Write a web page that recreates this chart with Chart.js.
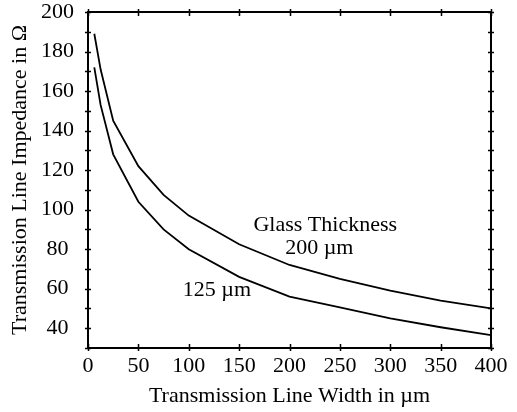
<!DOCTYPE html>
<html>
<head>
<meta charset="utf-8">
<script src="https://cdn.jsdelivr.net/npm/chart.js@4.4.1/dist/chart.umd.min.js"></script>
<style>
html,body{margin:0;padding:0;background:#fff;}
#wrap{width:517px;height:412px;}
</style>
</head>
<body>
<div id="wrap"><canvas id="c" width="517" height="412"></canvas></div>
<script>
// ---- data ----
const widths = [6.25, 12.5, 25, 50, 75, 100, 150, 200, 250, 300, 350, 400];
const imp200 = [189, 171, 145, 122, 107.5, 97, 82.5, 72, 65, 59, 54, 50];
const imp125 = [172, 153, 128, 104, 90, 80, 66, 56, 50.5, 45, 40.5, 36.5];
const xTickLabels = [0, 50, 100, 150, 200, 250, 300, 350, 400];
const yTickLabels = [40, 60, 80, 100, 120, 140, 160, 180, 200];
const yTickMarks = [30, 40, 50, 60, 70, 80, 90, 100, 110, 120, 130, 140, 150, 160, 170, 180, 190, 200];
const xTitle = 'Transmission Line Width in \u00b5m';
const yTitle = 'Transmission Line Impedance in \u03a9';
const annotations = [
  {text: 'Glass Thickness', x: 235.5, y: 92.1},
  {text: '200 \u00b5m', x: 229.6, y: 80.3},
  {text: '125 \u00b5m', x: 128, y: 59.3}
];

const FONT = "'Liberation Serif', 'Times New Roman', serif";
const FS = 22;

const framePlugin = {
  id: 'frame',
  afterDatasetsDraw(chart) {
    const {ctx, chartArea: a, scales: {x, y}} = chart;
    ctx.save();
    ctx.strokeStyle = '#000';
    ctx.lineWidth = 2;
    ctx.strokeRect(a.left, a.top, a.right - a.left, a.bottom - a.top);
    ctx.lineWidth = 1.5;
    ctx.beginPath();
    yTickMarks.forEach(v => {
      const py = Math.round(y.getPixelForValue(v)) + 0.5;
      ctx.moveTo(a.left - 3, py); ctx.lineTo(a.left + 3, py);
      ctx.moveTo(a.right - 3, py); ctx.lineTo(a.right + 3, py);
    });
    xTickLabels.forEach(v => {
      const px = Math.round(x.getPixelForValue(v)) + 0.5;
      ctx.moveTo(px, a.bottom - 4); ctx.lineTo(px, a.bottom + 3);
      ctx.moveTo(px, a.top - 3); ctx.lineTo(px, a.top + 4);
    });
    ctx.stroke();
    ctx.fillStyle = '#000';
    ctx.font = FS + 'px ' + FONT;
    ctx.textAlign = 'center';
    ctx.textBaseline = 'middle';
    annotations.forEach(t => {
      ctx.fillText(t.text, x.getPixelForValue(t.x), y.getPixelForValue(t.y));
    });
    ctx.restore();
  }
};

new Chart(document.getElementById('c'), {
  type: 'line',
  data: {
    datasets: [
      {label: '200 \u00b5m', data: widths.map((w, i) => ({x: w, y: imp200[i]})), borderColor: '#000', borderWidth: 1.8, pointRadius: 0, tension: 0, fill: false},
      {label: '125 \u00b5m', data: widths.map((w, i) => ({x: w, y: imp125[i]})), borderColor: '#000', borderWidth: 1.8, pointRadius: 0, tension: 0, fill: false}
    ]
  },
  options: {
    responsive: false,
    animation: false,
    devicePixelRatio: 1,
    layout: {padding: {left: 0, right: 26, top: 12, bottom: 0}},
    plugins: {legend: {display: false}, tooltip: {enabled: false}},
    scales: {
      x: {
        type: 'linear', min: 0, max: 400,
        grid: {display: false, drawTicks: false},
        border: {display: false},
        afterBuildTicks: s => { s.ticks = xTickLabels.map(v => ({value: v})); },
        afterFit: s => { s.height = 64; s.paddingLeft = 0; s.paddingRight = 0; },
        ticks: {color: '#000', font: {family: FONT, size: FS}, padding: 5, maxRotation: 0, autoSkip: false},
        title: {display: true, text: xTitle, color: '#000', font: {family: FONT, size: FS}, padding: {top: 0, bottom: 3}}
      },
      y: {
        type: 'linear', min: 30, max: 200,
        grid: {display: false, drawTicks: false},
        border: {display: false},
        afterBuildTicks: s => { s.ticks = yTickLabels.map(v => ({value: v})); },
        afterFit: s => { s.width = 88; s.paddingTop = 0; s.paddingBottom = 0; },
        ticks: {color: '#000', font: {family: FONT, size: FS}, padding: 14, crossAlign: 'center', autoSkip: false},
        title: {display: true, text: yTitle, color: '#000', font: {family: FONT, size: FS}, padding: {top: 7, bottom: 0}}
      }
    }
  },
  plugins: [framePlugin]
});
</script>
</body>
</html>
